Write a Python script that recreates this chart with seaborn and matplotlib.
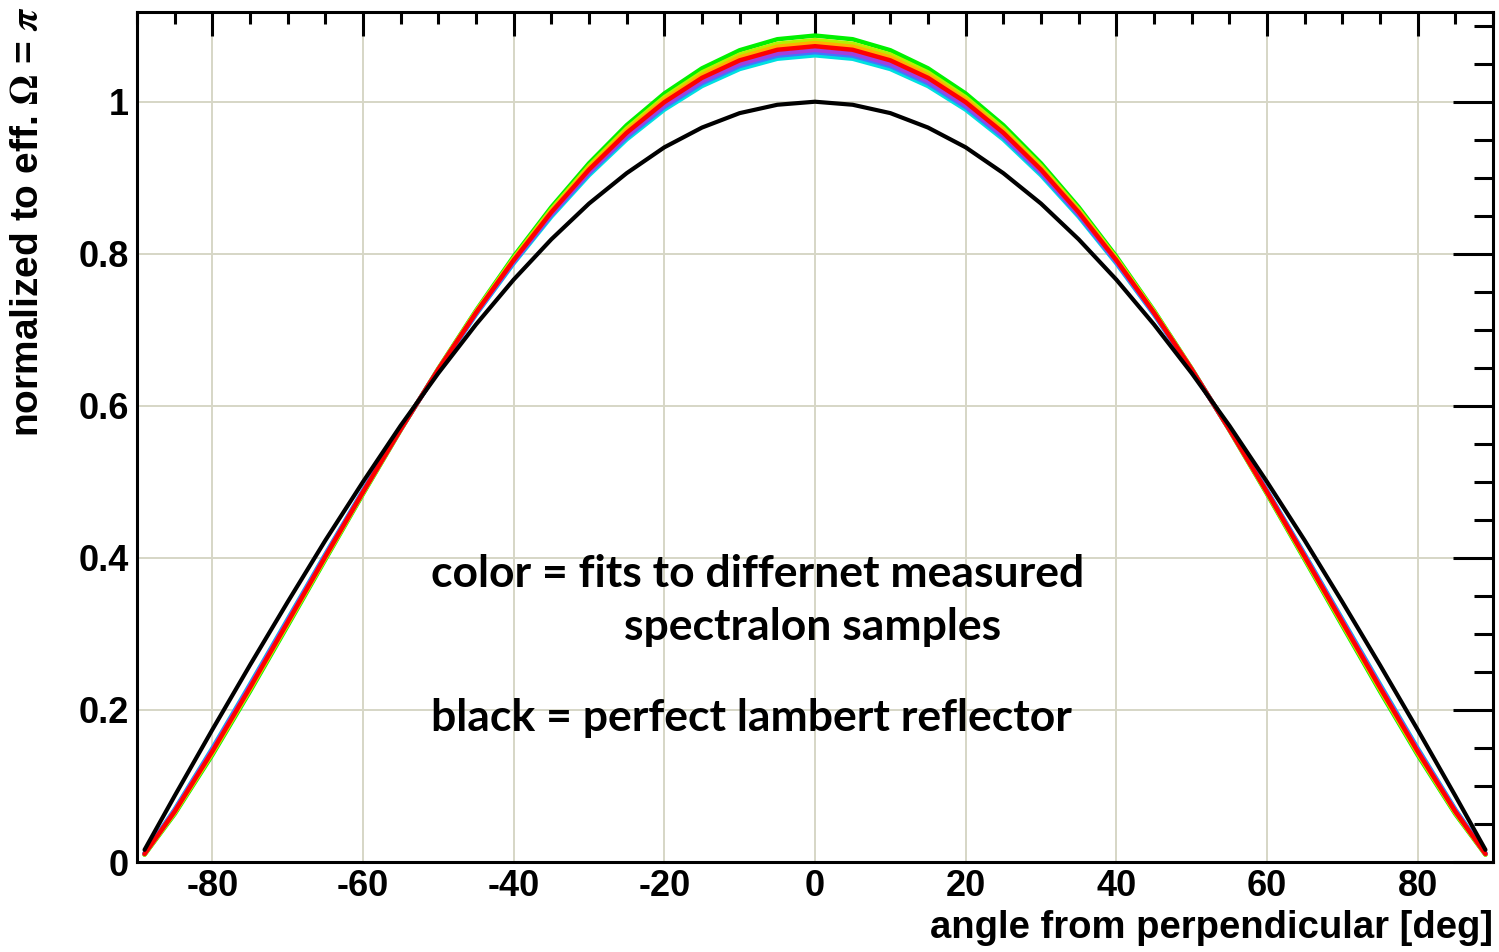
import numpy as np
import pandas as pd
import seaborn as sns
import matplotlib
matplotlib.use("Agg")
import matplotlib.pyplot as plt
from matplotlib.ticker import MultipleLocator

# angle from perpendicular [deg]
angles = [-89, -85, -80, -75, -70, -65, -60, -55, -50, -45, -40, -35, -30, -25, -20, -15, -10, -5,
          0, 5, 10, 15, 20, 25, 30, 35, 40, 45, 50, 55, 60, 65, 70, 75, 80, 85, 89]

# perfect lambert reflector
lambert = [0.016, 0.087, 0.174, 0.259, 0.342, 0.423, 0.500, 0.574, 0.643, 0.707, 0.766, 0.819, 0.866, 0.906, 0.940, 0.966, 0.985, 0.996,
           1.000, 0.996, 0.985, 0.966, 0.940, 0.906, 0.866, 0.819, 0.766, 0.707, 0.643, 0.574, 0.500, 0.423, 0.342, 0.259, 0.174, 0.087, 0.016]

# fits to measured spectralon samples
fit_green = [0.0096, 0.0631, 0.1408, 0.2244, 0.3108, 0.3978, 0.4841, 0.5682, 0.6490, 0.7253, 0.7964, 0.8613, 0.9190, 0.9691, 1.0108, 1.0439, 1.0677, 1.0822,
             1.0870, 1.0822, 1.0677, 1.0439, 1.0108, 0.9691, 0.9190, 0.8613, 0.7964, 0.7253, 0.6490, 0.5682, 0.4841, 0.3978, 0.3108, 0.2244, 0.1408, 0.0631, 0.0096]
fit_yellow = [0.0100, 0.0645, 0.1428, 0.2266, 0.3128, 0.3994, 0.4852, 0.5685, 0.6486, 0.7242, 0.7943, 0.8584, 0.9154, 0.9648, 1.0059, 1.0385, 1.0620, 1.0762,
              1.0810, 1.0762, 1.0620, 1.0385, 1.0059, 0.9648, 0.9154, 0.8584, 0.7943, 0.7242, 0.6486, 0.5685, 0.4852, 0.3994, 0.3128, 0.2266, 0.1428, 0.0645, 0.0100]
fit_orange = [0.0103, 0.0654, 0.1441, 0.2280, 0.3141, 0.4005, 0.4859, 0.5688, 0.6483, 0.7233, 0.7929, 0.8565, 0.9130, 0.9620, 1.0027, 1.0350, 1.0583, 1.0723,
              1.0771, 1.0723, 1.0583, 1.0350, 1.0027, 0.9620, 0.9130, 0.8565, 0.7929, 0.7233, 0.6483, 0.5688, 0.4859, 0.4005, 0.3141, 0.2280, 0.1441, 0.0654, 0.0103]
fit_red = [0.0106, 0.0663, 0.1455, 0.2294, 0.3154, 0.4016, 0.4866, 0.5690, 0.6480, 0.7225, 0.7915, 0.8546, 0.9106, 0.9591, 0.9994, 1.0314, 1.0544, 1.0683,
           1.0730, 1.0683, 1.0544, 1.0314, 0.9994, 0.9591, 0.9106, 0.8546, 0.7915, 0.7225, 0.6480, 0.5690, 0.4866, 0.4016, 0.3154, 0.2294, 0.1455, 0.0663, 0.0106]
fit_purple = [0.0110, 0.0676, 0.1473, 0.2313, 0.3171, 0.4030, 0.4875, 0.5693, 0.6476, 0.7215, 0.7898, 0.8522, 0.9075, 0.9554, 0.9953, 1.0269, 1.0496, 1.0633,
              1.0680, 1.0633, 1.0496, 1.0269, 0.9953, 0.9554, 0.9075, 0.8522, 0.7898, 0.7215, 0.6476, 0.5693, 0.4875, 0.4030, 0.3171, 0.2313, 0.1473, 0.0676, 0.0110]
fit_blue = [0.0112, 0.0683, 0.1483, 0.2324, 0.3181, 0.4038, 0.4880, 0.5695, 0.6474, 0.7209, 0.7888, 0.8508, 0.9058, 0.9534, 0.9929, 1.0243, 1.0469, 1.0605,
            1.0651, 1.0605, 1.0469, 1.0243, 0.9929, 0.9534, 0.9058, 0.8508, 0.7888, 0.7209, 0.6474, 0.5695, 0.4880, 0.4038, 0.3181, 0.2324, 0.1483, 0.0683, 0.0112]
fit_cyan = [0.0115, 0.0693, 0.1497, 0.2339, 0.3195, 0.4049, 0.4887, 0.5698, 0.6471, 0.7200, 0.7874, 0.8488, 0.9033, 0.9504, 0.9896, 1.0206, 1.0430, 1.0565,
            1.0610, 1.0565, 1.0430, 1.0206, 0.9896, 0.9504, 0.9033, 0.8488, 0.7874, 0.7200, 0.6471, 0.5698, 0.4887, 0.4049, 0.3195, 0.2339, 0.1497, 0.0693, 0.0115]

x_ticks = [-80, -60, -40, -20, 0, 20, 40, 60, 80]
x_tick_labels = ["-80", "-60", "-40", "-20", "0", "20", "40", "60", "80"]
y_ticks = [0, 0.2, 0.4, 0.6, 0.8, 1.0]
y_tick_labels = ["0", "0.2", "0.4", "0.6", "0.8", "1"]

sns.set_style("white")
plt.rcParams["font.family"] = ["Liberation Sans", "DejaVu Sans"]
plt.rcParams["font.weight"] = "bold"
plt.rcParams["mathtext.fontset"] = "stix"
plt.rcParams["axes.unicode_minus"] = False
plt.rcParams["text.color"] = "black"
plt.rcParams["xtick.labelcolor"] = "black"
plt.rcParams["ytick.labelcolor"] = "black"

fig = plt.figure(figsize=(14.99, 9.52), dpi=100)
ax = fig.add_axes([137 / 1499, 1 - 862 / 952, (1493 - 137) / 1499, (862 - 12) / 952])

# colored fits first (order so red lies on top), black reference last
fits = [
    (fit_green, "#00f000"),
    (fit_yellow, "#b8f000"),
    (fit_orange, "#ffb000"),
    (fit_cyan, "#00e0e0"),
    (fit_blue, "#3c78ff"),
    (fit_purple, "#a040e0"),
    (fit_red, "#ff0000"),
]
for vals, col in fits:
    df = pd.DataFrame({"angle": angles, "value": vals})
    sns.lineplot(data=df, x="angle", y="value", color=col, lw=3.2, ax=ax, sort=False)

df_l = pd.DataFrame({"angle": angles, "value": lambert})
sns.lineplot(data=df_l, x="angle", y="value", color="black", lw=3.0, ax=ax, sort=False)

ax.set_xlim(-90, 90)
ax.set_ylim(0, 1.118)
ax.set_xticks(x_ticks, x_tick_labels)
ax.set_yticks(y_ticks, y_tick_labels)
ax.xaxis.set_minor_locator(MultipleLocator(5))
ax.yaxis.set_minor_locator(MultipleLocator(0.05))
ax.grid(True, which="major", color="#d6d6c6", lw=1.4)
ax.set_axisbelow(True)
ax.set_xlabel("")
ax.set_ylabel("")

for s in ax.spines.values():
    s.set_linewidth(2.2)
    s.set_color("black")

ax.tick_params(axis="both", which="both", direction="in", top=True, right=True,
               width=2.2, color="black", labelsize=26, labelcolor="black")
ax.tick_params(axis="x", which="major", length=17, pad=5)
ax.tick_params(axis="x", which="minor", length=8.5)
ax.tick_params(axis="y", which="major", length=29, pad=6)
ax.tick_params(axis="y", which="minor", length=14)
for lab in ax.get_xticklabels() + ax.get_yticklabels():
    lab.set_fontweight("bold")

fig.text(1493 / 1499, 1 - 938 / 952, "angle from perpendicular [deg]",
         ha="right", va="baseline", fontsize=27.5, fontweight="bold", color="black")
fig.text(28 / 1499, 1 - 6 / 952, r"normalized to eff. $\Omega$ = $\pi$",
         rotation=90, ha="center", va="top", fontsize=28, fontweight="bold", color="black")

note_font = dict(fontsize=32, fontweight="bold", family=["Lato", "DejaVu Sans"], color="black")
ax.text(-51.0, (862 - 587) / 760, "color = fits to differnet measured", ha="left", va="baseline", **note_font)
ax.text(-25.4, (862 - 640) / 760, "spectralon samples", ha="left", va="baseline", **note_font)
ax.text(-51.0, (862 - 731) / 760, "black = perfect lambert reflector", ha="left", va="baseline", **note_font)

fig.savefig("out.png", dpi=100)
